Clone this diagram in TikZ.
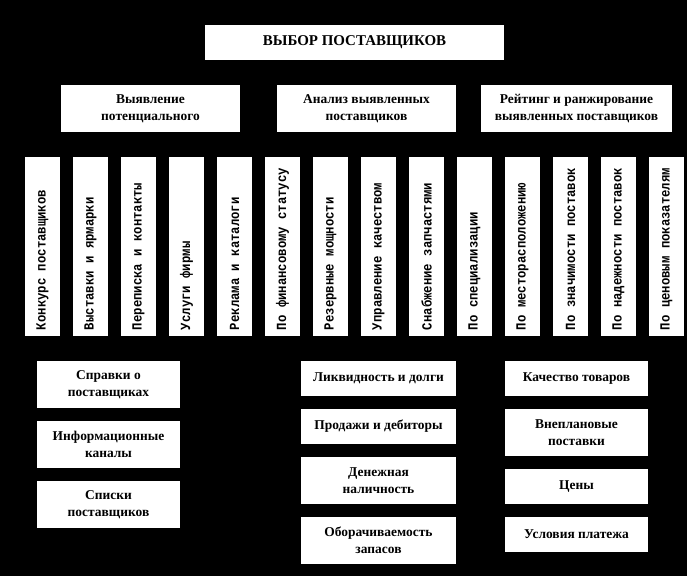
\documentclass[tikz,border=0pt]{standalone}
\usepackage{fontspec}
\usepackage{graphicx}
\setmainfont{Liberation Serif}
\newfontfamily\barfont[FakeStretch=0.88]{Liberation Mono}
\usetikzlibrary{positioning,chains}

% rotated text in the narrow bars, starting at the bottom
\newcommand\vtext[1]{\rotatebox{90}{\makebox[167bp][l]{#1}}}

\begin{document}
\begin{tikzpicture}[
    x=1bp, y=-1bp,
    node distance=13bp,
    start chain=going right,
  box/.style = {
        fill=white, align=center, inner sep=1pt, outer sep=0pt,
        font={\fontsize{13.5}{17}\selectfont\bfseries}},
 head/.style = {
        box, minimum width=299bp, minimum height=35bp,
        font={\fontsize{15}{17}\selectfont\bfseries}},
group/.style = {
        box, minimum width=179bp, minimum height=47bp},
  bar/.style = {
        fill=white, minimum width=35bp, minimum height=179bp,
        inner sep=0pt, outer sep=0pt,
        font={\fontsize{14}{14}\selectfont\barfont\bfseries},
        on chain},
 item/.style = {
        box, minimum height=35bp},
 tall/.style = {
        box, minimum height=47bp}
                    ]
% black page
\fill[black] (0,0) rectangle (687,576);
\useasboundingbox (0,0) rectangle (687,576);
% the title
\node (top) [head] at (354.5,42.5)  {ВЫБОР ПОСТАВЩИКОВ};
% the three stages
\node (g1)  [group] at (150.5,108.5) {Выявление\\потенциального};
\node (g2)  [group,right=37bp of g1] {Анализ выявленных\\поставщиков};
\node (g3)  [group,right=25bp of g2,minimum width=191bp]
                                    {Рейтинг и ранжирование\\выявленных поставщиков};
% the chain of bars
\node (b1)  [bar] at (42.5,246.5)   {\vtext{Конкурс поставщиков}};
\node (b2)  [bar]   {\vtext{Выставки и ярмарки}};
\node (b3)  [bar]   {\vtext{Переписка и контакты}};
\node (b4)  [bar]   {\vtext{Услуги фирмы}};
\node (b5)  [bar]   {\vtext{Реклама и каталоги}};
\node (b6)  [bar]   {\vtext{По финансовому статусу}};
\node (b7)  [bar]   {\vtext{Резервные мощности}};
\node (b8)  [bar]   {\vtext{Управление качеством}};
\node (b9)  [bar]   {\vtext{Снабжение запчастями}};
\node (b10) [bar]   {\vtext{По специализации}};
\node (b11) [bar]   {\vtext{По месторасположению}};
\node (b12) [bar]   {\vtext{По значимости поставок}};
\node (b13) [bar]   {\vtext{По надежности поставок}};
\node (b14) [bar]   {\vtext{По ценовым показателям}};
% the sources on the left
\node (s1)  [tall,minimum width=143bp] at (108.5,384.5)
                                    {Справки о\\поставщиках};
\node (s2)  [tall,minimum width=143bp,below=of s1]
                                    {Информационные\\каналы};
\node (s3)  [tall,minimum width=143bp,below=of s2]
                                    {Списки\\поставщиков};
% the finances in the middle
\node (f1)  [item,minimum width=155bp] at (378.5,378.5)
                                    {Ликвидность и долги};
\node (f2)  [item,minimum width=155bp,below=of f1]
                                    {Продажи и дебиторы};
\node (f3)  [tall,minimum width=155bp,below=of f2]
                                    {Денежная\\наличность};
\node (f4)  [tall,minimum width=155bp,below=of f3]
                                    {Оборачиваемость\\запасов};
% the criteria on the right
\node (k1)  [item,minimum width=143bp] at (576.5,378.5)
                                    {Качество товаров};
\node (k2)  [tall,minimum width=143bp,below=of k1]
                                    {Внеплановые\\поставки};
\node (k3)  [item,minimum width=143bp,below=of k2]
                                    {Цены};
\node (k4)  [item,minimum width=143bp,below=of k3]
                                    {Условия платежа};
\end{tikzpicture}
\end{document}
